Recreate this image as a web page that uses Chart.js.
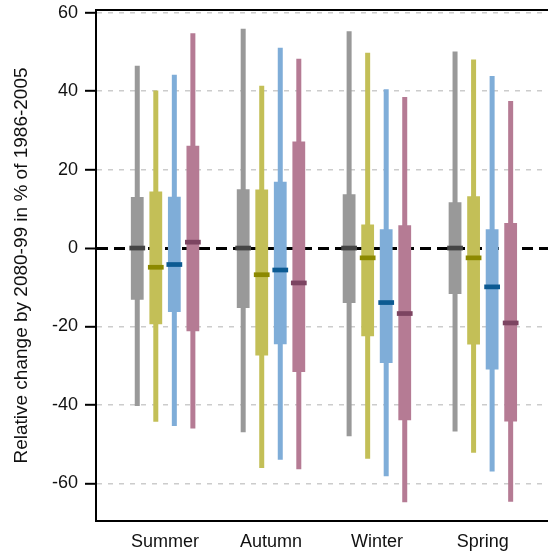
<!DOCTYPE html>
<html>
<head>
<meta charset="utf-8">
<script src="https://cdn.jsdelivr.net/npm/chart.js@4.4.0/dist/chart.umd.min.js"></script>
<style>
  html, body { margin: 0; padding: 0; background: #fff; }
  #wrap { width: 548px; height: 555px; }
</style>
</head>
<body>
<div id="wrap"><canvas id="seasonChart" width="548" height="555"></canvas></div>
<script>
// seasons along the x axis
const categories = ['Summer', 'Autumn', 'Winter', 'Spring'];
const yTicks = [-60, -40, -20, 0, 20, 40, 60];

// per season: [lower whisker, lower quartile, median, upper quartile, upper whisker]
const greyStats   = [[-40.3, -13.2, 0, 13.0, 46.5], [-47.0, -15.3, 0, 15.0, 55.9], [-48.0, -14.0, 0, 13.7, 55.3], [-46.8, -11.7, 0, 11.7, 50.1]];
const yellowStats = [[-44.3, -19.4, -4.9, 14.4, 40.2], [-56.1, -27.4, -6.8, 14.9, 41.4], [-53.7, -22.5, -2.5, 6.0, 49.8], [-52.2, -24.6, -2.5, 13.2, 48.1]];
const blueStats   = [[-45.4, -16.3, -4.2, 13.1, 44.2], [-54.0, -24.5, -5.6, 16.9, 51.1], [-58.2, -29.3, -13.9, 4.8, 40.5], [-57.0, -31.0, -9.9, 4.8, 43.9]];
const pinkStats   = [[-46.0, -21.2, 1.5, 26.1, 54.8], [-56.4, -31.6, -8.9, 27.2, 48.3], [-64.8, -43.9, -16.7, 5.8, 38.5], [-64.7, -44.2, -19.1, 6.4, 37.5]];

const boxColors    = ['#999999', '#c3bf57', '#7fadd8', '#b57b94'];
const medianColors = ['#454545', '#8c8900', '#0c5a92', '#7c4461'];

Chart.defaults.font.family = "'Liberation Sans', Arial, sans-serif";
Chart.defaults.font.size = 18;
Chart.defaults.color = '#111';

const datasets = [];
[greyStats, yellowStats, blueStats, pinkStats].forEach((stats, k) => {
    const stack = 's' + k;
    // median marker (drawn on top)
    datasets.push({
        stack: stack, order: 0,
        data: stats.map((s, i) => ({ x: i + 1, y: [s[2] - 0.6, s[2] + 0.6] })),
        backgroundColor: medianColors[k],
        barPercentage: 0.85
    });
    // interquartile box
    datasets.push({
        stack: stack, order: 1,
        data: stats.map((s, i) => ({ x: i + 1, y: [s[1], s[3]] })),
        backgroundColor: boxColors[k],
        barPercentage: 0.69
    });
    // whisker
    datasets.push({
        stack: stack, order: 2,
        data: stats.map((s, i) => ({ x: i + 1, y: [s[0], s[4]] })),
        backgroundColor: boxColors[k],
        barPercentage: 0.27
    });
});

// keep the plot frame where the reference has it
const noPad = s => { s.paddingTop = 0; s.paddingBottom = 0; s.paddingLeft = 0; s.paddingRight = 0; };

new Chart(document.getElementById('seasonChart'), {
    type: 'bar',
    data: { datasets: datasets },
    options: {
        responsive: false,
        animation: false,
        layout: { padding: 0 },
        datasets: {
            bar: { categoryPercentage: 0.7, borderWidth: 0, borderSkipped: false }
        },
        plugins: {
            legend: { display: false },
            tooltip: { enabled: false }
        },
        scales: {
            x: {
                type: 'linear',
                position: 'bottom',
                min: 0.348,
                max: 4.615,
                offset: false,
                afterBuildTicks: s => { s.ticks = categories.map((c, i) => ({ value: i + 1 })); },
                afterFit: s => { s.height = 34; noPad(s); },
                ticks: {
                    callback: v => categories[v - 1],
                    padding: 10,
                    color: '#111'
                },
                grid: { display: false, drawTicks: false },
                border: { display: true, color: '#000', width: 2 }
            },
            xTop: {
                type: 'linear',
                position: 'top',
                min: 0.348,
                max: 4.615,
                afterFit: s => { s.height = 10; noPad(s); },
                ticks: { display: false },
                grid: { display: false, drawTicks: false },
                border: { display: true, color: '#000', width: 2 }
            },
            y: {
                min: -69.6,
                max: 60.7,
                stacked: false,
                afterBuildTicks: s => { s.ticks = yTicks.map(v => ({ value: v })); },
                afterFit: s => { s.width = 96; noPad(s); },
                ticks: { padding: 7, color: '#111' },
                grid: {
                    color: c => (c.tick && c.tick.value === 0) ? '#000' : '#cccccc',
                    lineWidth: c => (c.tick && c.tick.value === 0) ? 3 : 1.6,
                    tickColor: '#000',
                    tickWidth: 2,
                    tickLength: 11,
                    tickBorderDash: []
                },
                border: {
                    display: true, color: '#000', width: 2,
                    dash: c => (c.tick && c.tick.value === 0) ? [11, 6] : [5, 6]
                },
                title: {
                    display: true,
                    text: 'Relative change by 2080-99 in % of 1986-2005',
                    color: '#111',
                    font: { size: 19 },
                    padding: { top: 10, bottom: 0 }
                }
            }
        }
    }
});
</script>
</body>
</html>
